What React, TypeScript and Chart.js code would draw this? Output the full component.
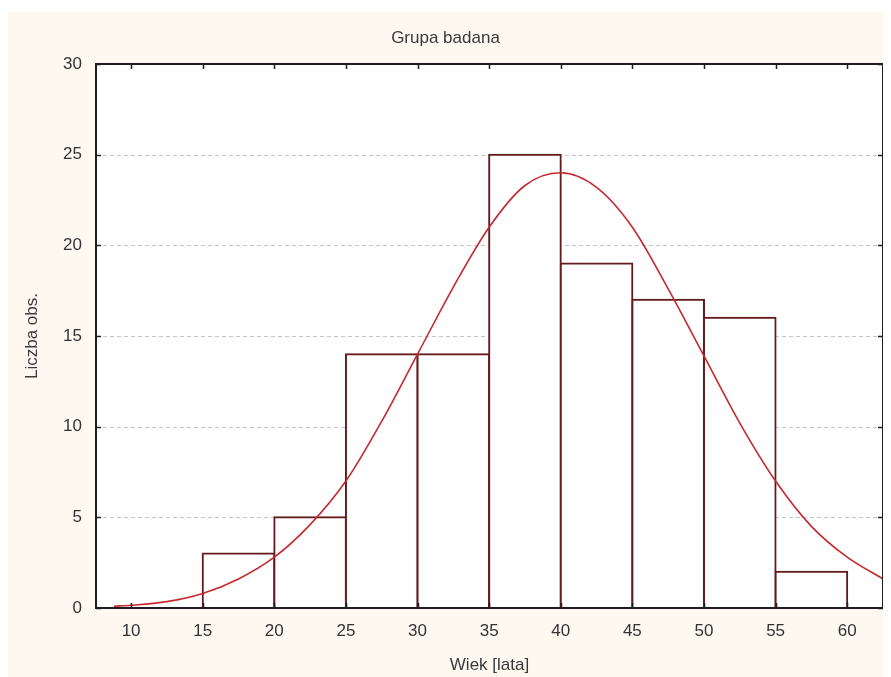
import React, { useEffect, useRef } from "react";
import { Chart, registerables } from "chart.js";

Chart.register(...registerables);

const binEdges = [10, 15, 20, 25, 30, 35, 40, 45, 50, 55, 60];
const counts = [0, 3, 5, 14, 14, 25, 19, 17, 16, 2];
const curveX = [8.8, 10, 12.5, 15, 17.5, 20, 22.5, 25, 27.5, 30, 32.5, 35, 37.5, 40, 42.5, 45, 47.5, 50, 52.5, 55, 57.5, 60, 62.5];
const curveY = [0.1, 0.15, 0.35, 0.8, 1.6, 2.8, 4.6, 7.0, 10.3, 14.0, 17.7, 21.0, 23.3, 24.0, 23.2, 21.0, 17.6, 13.9, 10.2, 7.0, 4.5, 2.8, 1.6];
const xTicks = [10, 15, 20, 25, 30, 35, 40, 45, 50, 55, 60];
const yTicks = [0, 5, 10, 15, 20, 25, 30];

const CREAM = "#fdf9f0";
const FONT = "'Liberation Sans', Arial, sans-serif";

const framePlugin = {
  id: "frame",
  beforeDraw(chart: any) {
    const { ctx, chartArea: a, width, height } = chart;
    ctx.save();
    ctx.fillStyle = CREAM;
    ctx.fillRect(0, 0, width, height);
    ctx.fillStyle = "#ffffff";
    ctx.fillRect(a.left, a.top, a.right - a.left, a.bottom - a.top);
    ctx.restore();
  },
  beforeDatasetsDraw(chart: any) {
    const { ctx, chartArea: a, scales } = chart;
    ctx.save();
    ctx.strokeStyle = "#c4c4c4";
    ctx.lineWidth = 1;
    ctx.setLineDash([4, 3]);
    yTicks.forEach((v) => {
      if (v === yTicks[0] || v === yTicks[yTicks.length - 1]) return;
      const y = Math.round(scales.y.getPixelForValue(v)) + 0.5;
      ctx.beginPath();
      ctx.moveTo(a.left, y);
      ctx.lineTo(a.right, y);
      ctx.stroke();
    });
    ctx.restore();
  },
  afterDatasetsDraw(chart: any) {
    const { ctx, chartArea: a, scales } = chart;
    ctx.save();
    ctx.strokeStyle = "#1e1e1e";
    ctx.lineWidth = 2;
    ctx.setLineDash([]);
    ctx.strokeRect(a.left, a.top, a.right - a.left, a.bottom - a.top);
    const t = 5;
    ctx.beginPath();
    xTicks.forEach((v) => {
      const x = Math.round(scales.x.getPixelForValue(v)) + 0.5;
      ctx.moveTo(x, a.top);
      ctx.lineTo(x, a.top + t);
      ctx.moveTo(x, a.bottom);
      ctx.lineTo(x, a.bottom - t);
    });
    yTicks.forEach((v) => {
      const y = Math.round(scales.y.getPixelForValue(v)) + 0.5;
      ctx.moveTo(a.left, y);
      ctx.lineTo(a.left + t, y);
      ctx.moveTo(a.right, y);
      ctx.lineTo(a.right - t, y);
    });
    ctx.lineWidth = 1.5;
    ctx.stroke();
    ctx.restore();
  },
};

export default function App() {
  const ref = useRef<HTMLCanvasElement | null>(null);

  useEffect(() => {
    document.documentElement.style.overflow = "hidden";
    document.body.style.overflow = "hidden";
    if (!ref.current) return;
    const barData = counts.map((c, i) => ({ x: (binEdges[i] + binEdges[i + 1]) / 2, y: c }));
    const lineData = curveX.map((x, i) => ({ x, y: curveY[i] }));
    const chart = new Chart(ref.current, {
      type: "bar",
      data: {
        datasets: [
          {
            type: "line",
            data: lineData,
            borderColor: "#c42a2e",
            borderWidth: 1.6,
            pointRadius: 0,
            tension: 0.4,
            cubicInterpolationMode: "monotone",
            fill: false,
            order: 0,
          } as any,
          {
            type: "bar",
            data: barData,
            backgroundColor: "#ffffff",
            borderColor: "#621a1d",
            borderWidth: 2,
            borderSkipped: false,
            inflateAmount: 1,
            barPercentage: 1,
            categoryPercentage: 1,
            order: 1,
          } as any,
        ],
      },
      options: {
        animation: false,
        responsive: true,
        maintainAspectRatio: false,
        layout: { padding: { left: 0, right: 8, top: 0, bottom: 0 } },
        plugins: {
          legend: { display: false },
          tooltip: { enabled: false },
          title: {
            display: true,
            text: "Grupa badana",
            color: "#3a3a3a",
            font: { family: FONT, size: 17, weight: "normal" },
            padding: { top: 16, bottom: 15.6 },
          },
        },
        scales: {
          x: {
            type: "linear",
            min: 7.55,
            max: 62.5,
            offset: false,
            grid: { display: false, drawTicks: false },
            border: { display: false },
            afterBuildTicks: (s: any) => {
              s.ticks = xTicks.map((value) => ({ value }));
            },
            afterFit: (s: any) => {
              s.height = 69;
            },
            ticks: {
              color: "#333333",
              font: { family: FONT, size: 17 },
              padding: 13,
              maxRotation: 0,
              autoSkip: false,
            },
            title: {
              display: true,
              text: "Wiek [lata]",
              color: "#3a3a3a",
              font: { family: FONT, size: 17 },
              padding: { top: 0, bottom: 1 },
            },
          },
          y: {
            type: "linear",
            min: 0,
            max: 30,
            grid: { display: false, drawTicks: false },
            border: { display: false },
            afterBuildTicks: (s: any) => {
              s.ticks = yTicks.map((value) => ({ value }));
            },
            afterFit: (s: any) => {
              s.width = 88;
            },
            ticks: {
              color: "#333333",
              font: { family: FONT, size: 17 },
              padding: 14,
            },
            title: {
              display: true,
              text: "Liczba obs.",
              color: "#3a3a3a",
              font: { family: FONT, size: 17 },
              padding: { top: 14, bottom: 0 },
            },
          },
        },
      },
      plugins: [framePlugin],
    });
    return () => chart.destroy();
  }, []);

  return (
    <div style={{ paddingTop: 4 }}>
      <div style={{ position: "relative", width: 883, height: 665 }}>
        <canvas ref={ref} />
      </div>
    </div>
  );
}
